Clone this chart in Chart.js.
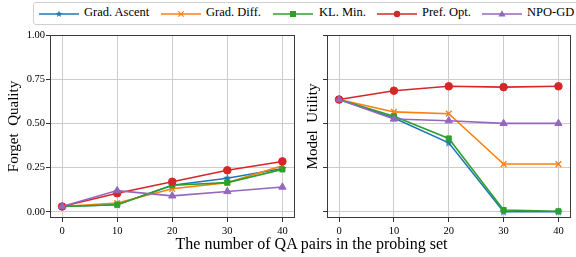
<!DOCTYPE html>
<html>
<head>
<meta charset="utf-8">
<script src="https://cdn.jsdelivr.net/npm/chart.js@4.4.1/dist/chart.umd.min.js"></script>
<style>
  body { margin: 0; background: #fff; }
  #wrap { position: relative; width: 576px; height: 257px; overflow: hidden; font-family: "Liberation Serif", serif; }
  #left { position: absolute; left: 0; top: 0; }
  #right { position: absolute; left: 300px; top: 0; }
  #legend {
    position: absolute; left: 33px; top: 2px; width: 545px; height: 21px;
    border: 1px solid #d0d0d0; border-radius: 3px; background: #fff;
    font-family: "Liberation Serif", serif; font-size: 12.5px; color: #000;
  }
  #legend svg { position: absolute; top: 3px; }
  #legend span { position: absolute; top: 2px; white-space: nowrap; font-family: "Liberation Serif", serif; }
  #xtitle {
    position: absolute; left: 50px; width: 523px; top: 235px; text-align: center;
    font-family: "Liberation Serif", serif; font-size: 16px; color: #000;
  }
</style>
</head>
<body>
<div id="wrap">
  <canvas id="left" width="300" height="257"></canvas>
  <canvas id="right" width="276" height="257"></canvas>
  <div id="legend"></div>
  <div id="xtitle">The number of QA pairs in the probing set</div>
</div>
<script>
// probing set sizes
const qaPairs = [0, 10, 20, 30, 40];
const methods = ['Grad. Ascent', 'Grad. Diff.', 'KL. Min.', 'Pref. Opt.', 'NPO-GD'];
const colors = ['#1f77b4', '#ff7f0e', '#2ca02c', '#d62728', '#9467bd'];

// Forget Quality (left)
const fqGradAscent = [0.03, 0.04, 0.15, 0.19, 0.245];
const fqGradDiff   = [0.03, 0.05, 0.13, 0.165, 0.26];
const fqKLMin      = [0.03, 0.04, 0.15, 0.165, 0.24];
const fqPrefOpt    = [0.03, 0.105, 0.17, 0.235, 0.285];
const fqNPOGD      = [0.03, 0.12, 0.09, 0.115, 0.14];

// Model Utility (right)
const muGradAscent = [0.635, 0.53, 0.39, 0.0, 0.0];
const muGradDiff   = [0.635, 0.565, 0.555, 0.27, 0.27];
const muKLMin      = [0.635, 0.54, 0.415, 0.01, 0.003];
const muPrefOpt    = [0.635, 0.685, 0.71, 0.705, 0.71];
const muNPOGD      = [0.635, 0.525, 0.515, 0.50, 0.50];

const xTicks = [0, 10, 20, 30, 40];
const yTicks = [0, 0.25, 0.5, 0.75, 1.0];

const FONT = 'Liberation Serif';

// filled 5-point star for the Grad. Ascent marker
function starImage(color, r) {
    const s = Math.ceil(r * 2 + 2);
    const c = document.createElement('canvas');
    c.width = s; c.height = s;
    const g = c.getContext('2d');
    g.fillStyle = color;
    g.beginPath();
    for (let i = 0; i < 10; i++) {
        const rad = i % 2 ? r * 0.42 : r;
        const a = -Math.PI / 2 + i * Math.PI / 5;
        g.lineTo(s / 2 + rad * Math.cos(a), s / 2 + rad * Math.sin(a));
    }
    g.closePath();
    g.fill();
    return c;
}

const pointStyles = [starImage(colors[0], 4.5), 'crossRot', 'rect', 'circle', 'triangle'];
const pointRadii = [4.5, 4, 3.6, 3.8, 4.2];

function makeDatasets(series) {
    return series.map((vals, i) => ({
        label: methods[i],
        data: vals.map((v, j) => ({ x: qaPairs[j], y: v })),
        borderColor: colors[i],
        backgroundColor: colors[i],
        pointBackgroundColor: colors[i],
        pointBorderColor: colors[i],
        pointBorderWidth: i === 1 ? 1.4 : 1,
        pointStyle: pointStyles[i],
        pointRadius: pointRadii[i],
        borderWidth: 1.6,
        order: 5 - i, // later series on top, like matplotlib
        tension: 0
    }));
}

// draws the full box around the plot area
const framePlugin = {
    id: 'frame',
    afterDraw(chart) {
        const a = chart.chartArea;
        const g = chart.ctx;
        g.save();
        g.strokeStyle = '#3a3a3a';
        g.lineWidth = 1;
        g.strokeRect(Math.round(a.left) + 0.5, Math.round(a.top) + 0.5,
            Math.round(a.right - a.left) - 1, Math.round(a.bottom - a.top) - 1);
        g.restore();
    }
};

function makeOptions(yTitle, axisWidth, titleOffset, showLabels, rightPad) {
    return {
        responsive: false,
        animation: false,
        layout: { padding: { top: 35, right: rightPad, left: 0, bottom: 0 } },
        plugins: { legend: { display: false }, tooltip: { enabled: false } },
        scales: {
            x: {
                type: 'linear',
                min: -2.2,
                max: 42.2,
                afterBuildTicks: s => { s.ticks = xTicks.map(v => ({ value: v })); },
                afterFit: s => { s.height = 39; },
                grid: { color: '#cccccc', lineWidth: 1, tickColor: '#333', tickLength: 4, drawTicks: true },
                border: { display: false },
                ticks: { font: { family: FONT, size: 10.5 }, color: '#000', padding: 3, maxRotation: 0 }
            },
            y: {
                min: -0.035,
                max: 1.0,
                afterBuildTicks: s => { s.ticks = yTicks.map(v => ({ value: v })); },
                afterFit: s => { s.width = axisWidth; },
                grid: { color: '#cccccc', lineWidth: 1, tickColor: '#333', tickLength: 4, drawTicks: true },
                border: { display: false },
                ticks: {
                    font: { family: FONT, size: 10.5 }, color: '#000', padding: 1,
                    callback: v => showLabels ? v.toFixed(2) : ''
                },
                title: {
                    display: true, text: yTitle, color: '#000',
                    font: { family: FONT, size: 15 },
                    padding: { top: titleOffset, bottom: 0 }
                }
            }
        }
    };
}

new Chart(document.getElementById('left').getContext('2d'), {
    type: 'line',
    data: { datasets: makeDatasets([fqGradAscent, fqGradDiff, fqKLMin, fqPrefOpt, fqNPOGD]) },
    options: makeOptions('Forget  Quality', 50, 5, true, 4),
    plugins: [framePlugin]
});

new Chart(document.getElementById('right').getContext('2d'), {
    type: 'line',
    data: { datasets: makeDatasets([muGradAscent, muGradDiff, muKLMin, muPrefOpt, muNPOGD]) },
    options: makeOptions('Model  Utility', 27, 4, false, 3),
    plugins: [framePlugin]
});

// legend: line with marker, like matplotlib
const legendLineX = [5, 127, 239, 343, 448];
const legendTextX = [50, 172, 285, 388, 493];
const markerSvg = [
    c => `<polygon fill="${c}" points="${starPts(20, 8, 3.6)}"/>`,
    c => `<path d="M17.3 5.3 L22.7 10.7 M22.7 5.3 L17.3 10.7" stroke="${c}" stroke-width="1.2"/>`,
    c => `<rect x="17" y="5" width="6" height="6" fill="${c}"/>`,
    c => `<circle cx="20" cy="8" r="3.2" fill="${c}"/>`,
    c => `<polygon fill="${c}" points="20,4.3 23.6,10.6 16.4,10.6"/>`
];
function starPts(cx, cy, r) {
    const pts = [];
    for (let i = 0; i < 10; i++) {
        const rad = i % 2 ? r * 0.42 : r;
        const a = -Math.PI / 2 + i * Math.PI / 5;
        pts.push((cx + rad * Math.cos(a)).toFixed(2) + ',' + (cy + rad * Math.sin(a)).toFixed(2));
    }
    return pts.join(' ');
}
const legend = document.getElementById('legend');
methods.forEach((m, i) => {
    legend.insertAdjacentHTML('beforeend',
        `<svg width="40" height="16" style="left:${legendLineX[i]}px"><line x1="0" y1="8" x2="40" y2="8" stroke="${colors[i]}" stroke-width="1.6"/>${markerSvg[i](colors[i])}</svg>` +
        `<span style="left:${legendTextX[i]}px">${m}</span>`);
});
</script>
</body>
</html>
